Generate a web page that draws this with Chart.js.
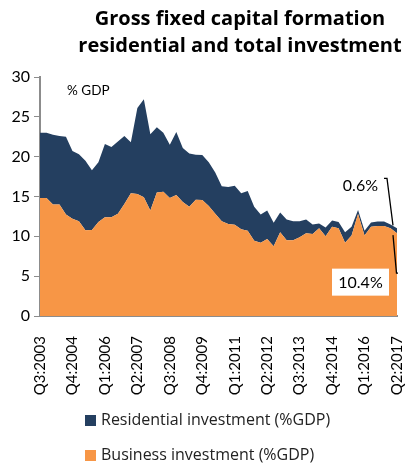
<!DOCTYPE html>
<html>
<head>
<meta charset="utf-8">
<script src="https://cdn.jsdelivr.net/npm/chart.js@4/dist/chart.umd.min.js"></script>
<style>
  html, body { margin: 0; padding: 0; background: #fff; }
  #wrap { position: relative; width: 406px; height: 464px; overflow: hidden; font-family: Lato, "Open Sans", sans-serif; }
  #c { position: absolute; left: 0; top: 0; }
  #title { position: absolute; left: 40px; width: 400px; top: 4px; text-align: center; font-family: "Open Sans", sans-serif; font-weight: bold; font-size: 20px; line-height: 27px; color: #000; }
  .leg { position: absolute; left: 85px; font-family: "Open Sans", sans-serif; font-size: 16px; color: #222; white-space: nowrap; }
  .leg span { display: inline-block; width: 11px; height: 11px; margin-right: 5px; vertical-align: -1px; }
</style>
</head>
<body>
<div id="wrap">
  <canvas id="c" width="406" height="464"></canvas>
  <div id="title">Gross fixed capital formation<br>residential and total investment</div>
  <div class="leg" id="leg1" style="top:408px"><span style="background:#243F60"></span>Residential investment (%GDP)</div>
  <div class="leg" id="leg2" style="top:443px"><span style="background:#F79646"></span>Business investment (%GDP)</div>
</div>
<script>
// Quarterly categories Q3:2003 .. Q2:2017
const quarters = [];
for (let y = 2003, q = 3; !(y === 2017 && q === 3); ) {
  quarters.push('Q' + q + ':' + y);
  q++; if (q > 4) { q = 1; y++; }
}
// Tick labels shown on the x axis
const tickLabels = ['Q3:2003','Q4:2004','Q1:2006','Q2:2007','Q3:2008','Q4:2009','Q1:2011','Q2:2012','Q3:2013','Q4:2014','Q1:2016','Q2:2017'];

// Business investment (%GDP) - bottom area
const business = [14.8,14.8,14.0,14.0,12.75,12.2,11.9,10.75,10.8,11.8,
  12.4,12.4,12.85,14.05,15.4,15.3,14.9,13.25,15.5,15.6,
  14.8,15.2,14.3,13.7,14.6,14.55,13.8,12.85,11.9,11.55,
  11.45,10.9,10.7,9.45,9.2,9.65,8.75,10.5,9.5,9.5,
  9.9,10.4,10.3,11.0,10.0,11.2,11.0,9.2,10.1,12.8,
  10.1,11.2,11.3,11.3,11.0,10.4];
// Residential investment (%GDP) - stacked on top
const residential = [8.2,8.2,8.75,8.6,9.75,8.5,8.4,8.75,7.5,7.5,
  9.2,8.8,9.05,8.55,6.4,10.8,12.3,9.55,8.2,7.4,
  6.7,7.9,6.8,6.7,5.65,5.65,5.5,5.15,4.4,4.65,
  4.9,4.5,5.0,4.25,3.55,3.6,2.95,2.5,2.6,2.4,
  2.0,1.7,1.2,0.6,1.1,0.8,0.8,1.3,1.1,0.5,
  0.6,0.55,0.55,0.55,0.5,0.6];

const endResidentialLabel = '0.6%';
const endBusinessLabel = '10.4%';
const unitLabel = '% GDP';

const FONT = 'Lato, "Open Sans", sans-serif';

const annot = {
  id: 'annot',
  afterDatasetsDraw(chart) {
    const ctx = chart.ctx;
    const xs = chart.scales.x, ys = chart.scales.y;
    const ca = chart.chartArea;
    const n = business.length - 1;
    const xEnd = xs.getPixelForValue(n);
    const yTop = ys.getPixelForValue(business[n] + residential[n]);
    const yBus = ys.getPixelForValue(business[n]);
    ctx.save();
    // % GDP label
    ctx.fillStyle = '#000';
    ctx.font = '13.5px ' + FONT;
    ctx.textBaseline = 'middle';
    ctx.textAlign = 'left';
    ctx.fillText(unitLabel, ca.left + 27, ca.top + 14);
    // residential pointer line
    ctx.strokeStyle = '#000';
    ctx.lineWidth = 1.3;
    ctx.beginPath();
    ctx.moveTo(xEnd - 13, yTop - 50);
    ctx.lineTo(xEnd - 10, yTop - 50);
    ctx.lineTo(xEnd - 4, yTop - 3);
    ctx.stroke();
    ctx.font = '16px ' + FONT;
    ctx.textAlign = 'right';
    ctx.fillText(endResidentialLabel, xEnd - 19, yTop - 43);
    // business pointer line
    ctx.beginPath();
    ctx.moveTo(xEnd - 4, yBus + 2);
    ctx.lineTo(xEnd - 0.5, yBus + 40);
    ctx.lineTo(xEnd + 1, yBus + 40);
    ctx.stroke();
    // white box with business label
    const bw = 57, bh = 27;
    const bx = xEnd - 65, by = yBus + 35.5;
    ctx.fillStyle = '#fff';
    ctx.fillRect(bx, by, bw, bh);
    ctx.fillStyle = '#000';
    ctx.textAlign = 'center';
    ctx.fillText(endBusinessLabel, bx + bw / 2, by + bh / 2 + 1);
    ctx.restore();
  }
};

new Chart(document.getElementById('c'), {
  type: 'line',
  data: {
    labels: quarters,
    datasets: [
      { label: 'Business investment (%GDP)', data: business, backgroundColor: '#F79646', borderWidth: 0, pointRadius: 0, fill: 'origin', stack: 's' },
      { label: 'Residential investment (%GDP)', data: residential, backgroundColor: '#243F60', borderWidth: 0, pointRadius: 0, fill: '-1', stack: 's' }
    ]
  },
  options: {
    responsive: false,
    animation: false,
    devicePixelRatio: 1,
    layout: { padding: { top: 77, right: 9, left: 0, bottom: 0 } },
    plugins: { legend: { display: false }, title: { display: false }, tooltip: { enabled: false } },
    elements: { line: { tension: 0 } },
    scales: {
      x: {
        offset: false,
        grid: { display: false },
        border: { display: true, color: '#8c8c8c', width: 2 },
        ticks: {
          autoSkip: false, maxRotation: 90, minRotation: 90, color: '#000', padding: 12,
          font: { family: FONT, size: 15 },
          callback: function(v, i) { const l = quarters[i]; return tickLabels.includes(l) ? l : ''; }
        },
        afterFit(s) { s.height = 148; s.paddingLeft = 0; s.paddingRight = 0; }
      },
      y: {
        stacked: true, min: 0, max: 30,
        grid: { display: true, drawOnChartArea: false, drawTicks: true, tickLength: 6, color: '#8c8c8c' },
        border: { display: true, color: '#8c8c8c', width: 2 },
        ticks: { stepSize: 5, color: '#000', padding: 4, font: { family: FONT, size: 16 } },
        afterFit(s) { s.width = 40; s.paddingTop = 0; s.paddingBottom = 0; }
      }
    }
  },
  plugins: [annot]
});
</script>
</body>
</html>
